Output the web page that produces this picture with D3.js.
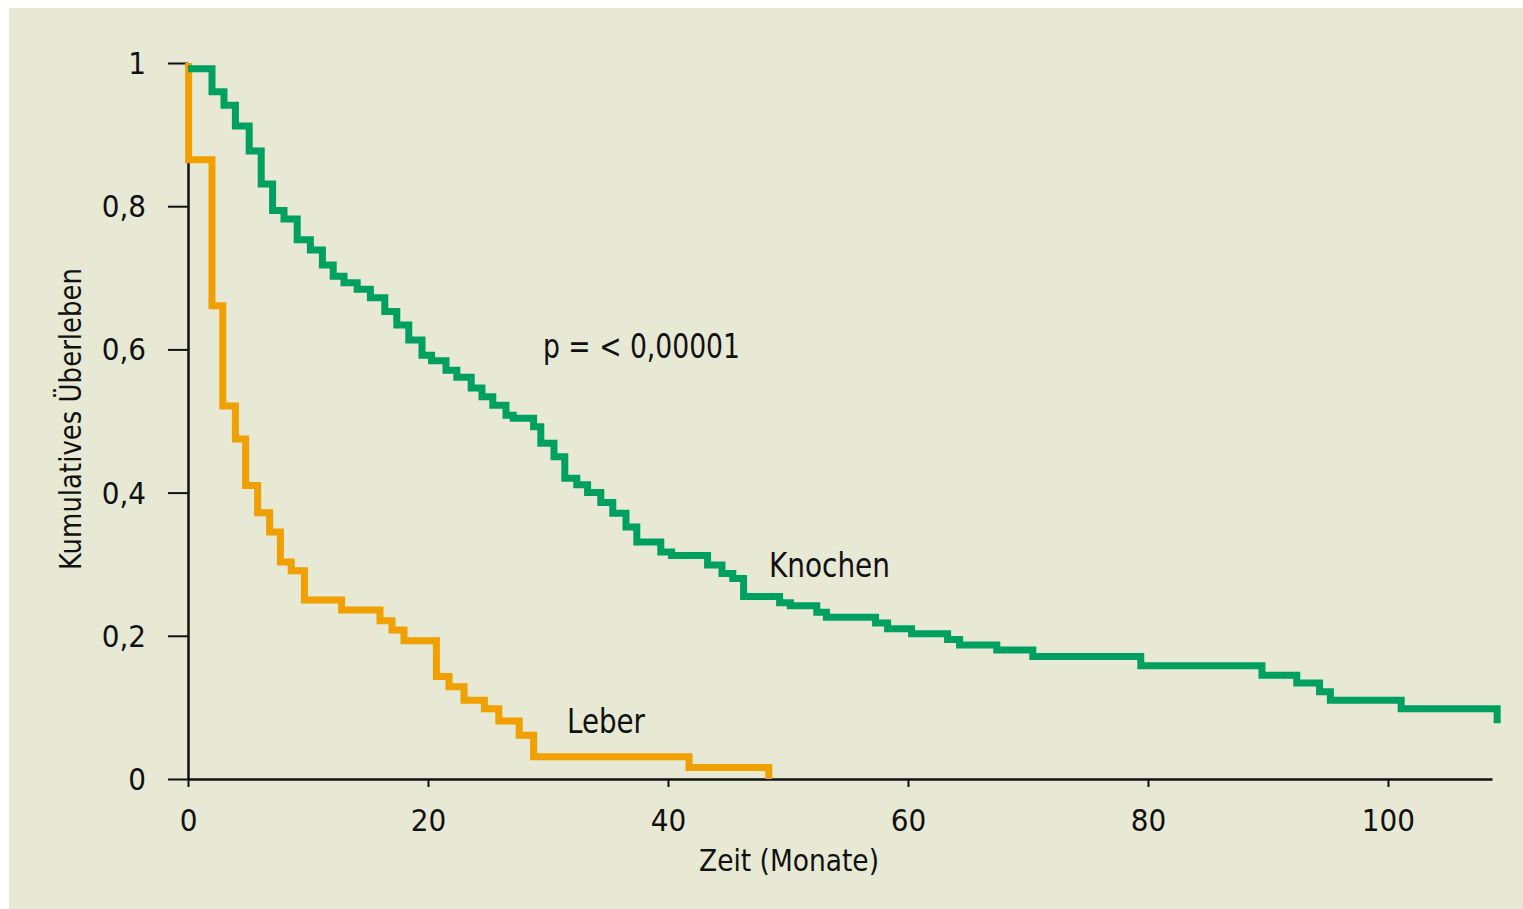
<!DOCTYPE html>
<html>
<head>
<meta charset="utf-8">
<script src="https://cdn.jsdelivr.net/npm/d3@7"></script>
<style>
  html, body { margin: 0; padding: 0; background: #fff; }
  svg text { font-family: "Liberation Sans Narrow", "DejaVu Sans Condensed", "Roboto", sans-serif; fill: #111; }
</style>
</head>
<body>
<svg id="chart" width="1523" height="909"></svg>
<script>
// Knochen (bone) survival steps: [month, cumulative survival]
const knochen = [
  [0, 0.992], [2.0, 0.960], [3.0, 0.941], [3.95, 0.912], [5.1, 0.877], [6.1, 0.831],
  [7.05, 0.794], [8.0, 0.782], [9.1, 0.753], [10.2, 0.739], [11.2, 0.718], [12.1, 0.702],
  [13.0, 0.693], [14.1, 0.684], [15.2, 0.672], [16.4, 0.653], [17.4, 0.634], [18.4, 0.613],
  [19.5, 0.592], [20.3, 0.584], [21.5, 0.571], [22.4, 0.561], [23.6, 0.546], [24.5, 0.534],
  [25.4, 0.522], [26.5, 0.508], [27.1, 0.504], [28.8, 0.492], [29.4, 0.469], [30.5, 0.450],
  [31.4, 0.420], [32.4, 0.411], [33.3, 0.400], [34.4, 0.386], [35.4, 0.371], [36.5, 0.352],
  [37.4, 0.331], [39.4, 0.317], [40.3, 0.312], [43.3, 0.299], [44.5, 0.287], [45.4, 0.280],
  [46.3, 0.255], [49.3, 0.246], [50.2, 0.242], [52.4, 0.233], [53.2, 0.226], [57.3, 0.218],
  [58.3, 0.210], [60.3, 0.203], [63.3, 0.195], [64.3, 0.187], [67.4, 0.180], [70.4, 0.171],
  [79.4, 0.158], [89.5, 0.145], [92.4, 0.134], [94.3, 0.122], [95.2, 0.110], [101.1, 0.098],
  [109.1, 0.098], [109.1, 0.078]
];

// Leber (liver) survival steps
const leber = [
  [0.05, 1.0], [0.05, 0.865], [2.0, 0.661], [2.9, 0.521], [3.95, 0.475], [4.8, 0.410],
  [5.8, 0.372], [6.8, 0.345], [7.7, 0.303], [8.6, 0.291], [9.7, 0.250], [12.8, 0.236],
  [16.0, 0.221], [17.0, 0.208], [18.0, 0.193], [20.7, 0.143], [21.75, 0.129], [23.0, 0.110],
  [24.7, 0.098], [25.9, 0.081], [27.6, 0.061], [28.8, 0.031], [41.75, 0.016], [48.4, 0.016],
  [48.4, 0.0]
];

const xTicks = [0, 20, 40, 60, 80, 100];
const yTicks = [0, 0.2, 0.4, 0.6, 0.8, 1];
const yTickLabels = ["0", "0,2", "0,4", "0,6", "0,8", "1"];

const svg = d3.select("#chart");

// panel background
svg.append("rect")
    .attr("x", 9).attr("y", 8)
    .attr("width", 1514).attr("height", 901)
    .attr("fill", "#e7e9d4");

const x = d3.scaleLinear().domain([0, 108.67]).range([188, 1492]);
const y = d3.scaleLinear().domain([0, 1]).range([779, 63]);

// axes
const xAxis = svg.append("g")
    .attr("transform", `translate(0, ${y(0)})`)
    .call(d3.axisBottom(x).tickValues(xTicks).tickSize(8).tickPadding(22).tickSizeOuter(0));

const yAxis = svg.append("g")
    .attr("transform", `translate(${x(0)}, 0)`)
    .call(d3.axisLeft(y).tickValues(yTicks)
        .tickFormat((d, i) => yTickLabels[i])
        .tickSize(20).tickPadding(22).tickSizeOuter(0));

[xAxis, yAxis].forEach(a => {
    a.selectAll("path.domain").attr("stroke", "#111").attr("stroke-width", 2.5);
    a.selectAll(".tick line").attr("stroke", "#111").attr("stroke-width", 2);
    a.selectAll(".tick text")
        .style("font-family", '"Liberation Sans Narrow", "DejaVu Sans Condensed", sans-serif')
        .style("font-size", "31px")
        .attr("fill", "#111");
});
xAxis.selectAll(".tick text").attr("dy", "0.71em");
yAxis.selectAll(".tick text").attr("dy", "0.34em");

// step curves
const line = d3.line()
    .x(d => x(d[0]))
    .y(d => y(d[1]))
    .curve(d3.curveStepAfter);

svg.append("path")
    .datum(leber)
    .attr("d", line)
    .attr("fill", "none")
    .attr("stroke", "#f0a000")
    .attr("stroke-width", 7)
    .attr("stroke-linejoin", "miter")
    .attr("stroke-linecap", "butt");

svg.append("path")
    .datum(knochen)
    .attr("d", line)
    .attr("fill", "none")
    .attr("stroke", "#00a060")
    .attr("stroke-width", 7)
    .attr("stroke-linejoin", "miter")
    .attr("stroke-linecap", "butt");

// labels
svg.append("text")
    .attr("x", 543).attr("y", 358)
    .attr("textLength", 197).attr("lengthAdjust", "spacingAndGlyphs")
    .style("font-size", "33px")
    .text("p = < 0,00001");

svg.append("text")
    .attr("x", 769).attr("y", 577)
    .attr("textLength", 121).attr("lengthAdjust", "spacingAndGlyphs")
    .style("font-size", "33px")
    .text("Knochen");

svg.append("text")
    .attr("x", 567).attr("y", 733)
    .attr("textLength", 78).attr("lengthAdjust", "spacingAndGlyphs")
    .style("font-size", "33px")
    .text("Leber");

svg.append("text")
    .attr("x", 699).attr("y", 871)
    .attr("textLength", 180).attr("lengthAdjust", "spacingAndGlyphs")
    .style("font-size", "30px")
    .text("Zeit (Monate)");

svg.append("text")
    .attr("transform", "translate(81, 570) rotate(-90)")
    .attr("x", 0).attr("y", 0)
    .attr("textLength", 302).attr("lengthAdjust", "spacingAndGlyphs")
    .style("font-size", "30px")
    .text("Kumulatives Überleben");
</script>
</body>
</html>
